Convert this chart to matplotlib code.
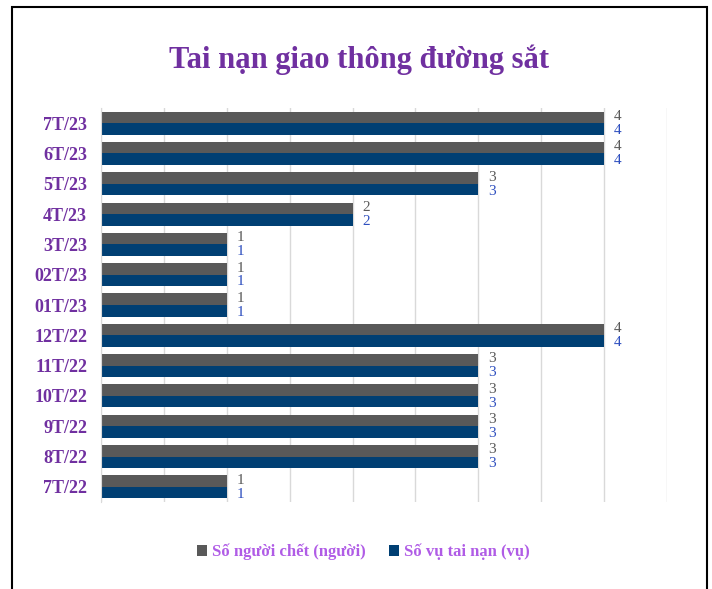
import numpy as np
import matplotlib.pyplot as plt
from matplotlib.patches import Rectangle

months = ['7T/23', '6T/23', '5T/23', '4T/23', '3T/23', '02T/23', '01T/23',
          '12T/22', '11T/22', '10T/22', '9T/22', '8T/22', '7T/22']
deaths = [4, 4, 3, 2, 1, 1, 1, 4, 3, 3, 3, 3, 1]
accidents = [4, 4, 3, 2, 1, 1, 1, 4, 3, 3, 3, 3, 1]

purple = '#7030A0'
font = 'Liberation Serif'

fig = plt.figure(figsize=(7.12, 5.89), dpi=100)
ax = fig.add_axes([101/712, 1-502/589, (667-101)/712, (502-108)/589])

y = np.arange(len(months))
h = 0.38
b1 = ax.barh(y - h/2, deaths, height=h, color='#595959', label='Số người chết (người)')
b2 = ax.barh(y + h/2, accidents, height=h, color='#003F73', label='Số vụ tai nạn (vụ)')

# data labels, gray above / blue below as in the original
for i in range(len(months)):
    ax.annotate(str(deaths[i]), (deaths[i], y[i] - 0.22), xytext=(7, 0), textcoords='offset points',
                va='center', ha='left', color='#595959', fontsize=11, family=font)
    ax.annotate(str(accidents[i]), (accidents[i], y[i] + 0.24), xytext=(7, 0), textcoords='offset points',
                va='center', ha='left', color='#2E4FBF', fontsize=11, family=font)

ax.set_xlim(0, 4.5)
ax.set_ylim(len(months) - 0.5, -0.5)
ax.set_xticks(np.arange(0, 4.6, 0.5))
ax.set_xticklabels([])
ax.set_yticks(y)
ax.set_yticklabels(months, color=purple, fontsize=13, fontweight='bold', family=font)
ax.tick_params(length=0, pad=10)
ax.grid(axis='x', color='#D9D9D9', linewidth=1)
ax.set_axisbelow(True)
for s in ['top', 'right', 'bottom']:
    ax.spines[s].set_visible(False)
ax.spines['left'].set_color('#D9D9D9')

fig.text(0.505, 1-60/589, 'Tai nạn giao thông đường sắt', ha='center', va='center',
         color=purple, fontsize=22, fontweight='bold', family=font)

leg = fig.legend(handles=[b1, b2], loc='center', bbox_to_anchor=(0.51, 1-552/589), ncol=2,
                 frameon=False, handlelength=0.6, handleheight=0.6, handletextpad=0.3,
                 columnspacing=1.4, prop={'family': font, 'weight': 'bold', 'size': 12})
for t in leg.get_texts():
    t.set_color('#B05CE6')

fig.patches.append(Rectangle((12/712, -0.1), (707-12)/712, 1.1 - 7/589, transform=fig.transFigure,
                             fill=False, edgecolor='black', linewidth=1.5))

fig.savefig('out.png', dpi=100)
